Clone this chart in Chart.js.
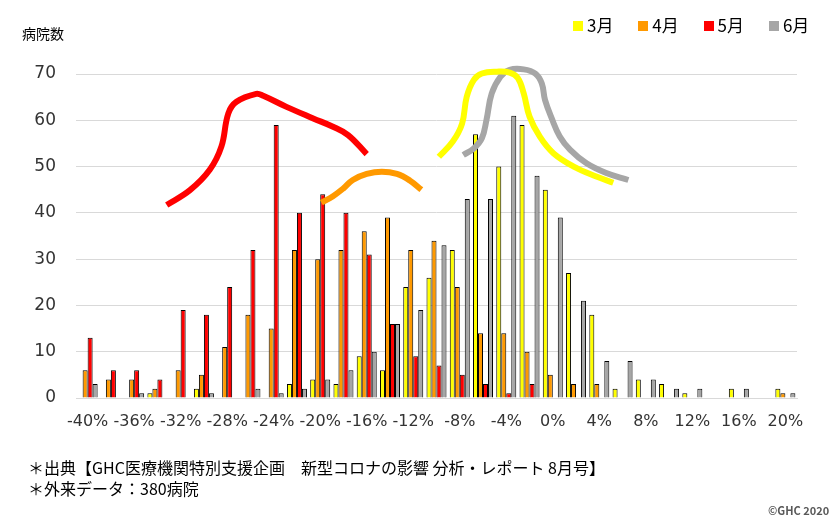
<!DOCTYPE html>
<html><head><meta charset="utf-8">
<script src="https://cdn.jsdelivr.net/npm/chart.js@4.4.1/dist/chart.umd.min.js"></script>
<style>
html,body{margin:0;padding:0;background:#fff;}
#wrap{position:relative;width:833px;height:526px;overflow:hidden;font-family:"Noto Sans CJK JP",sans-serif;}
canvas{position:absolute;left:0;top:0;}
.t{position:absolute;white-space:nowrap;color:#000;}
</style></head><body>
<div id="wrap">
<canvas id="c" width="833" height="526"></canvas>
<canvas id="c2" width="833" height="526"></canvas>
<div class="t" style="left:22px;top:24px;font-size:14px;line-height:18px;">病院数</div>
<div id="legend"></div>
<div class="t" style="left:28px;top:457px;font-size:16px;line-height:21px;">＊出典【GHC医療機関特別支援企画　新型コロナの影響 分析・レポート 8月号】<br>＊外来データ：380病院</div>
<div class="t" style="left:768px;top:503px;font-size:11px;line-height:14px;font-weight:bold;color:#595959;">©GHC 2020</div>
</div>
<script>
const categories = ['-40%','-38%','-36%','-34%','-32%','-30%','-28%','-26%','-24%','-22%','-20%','-18%','-16%','-14%','-12%','-10%','-8%','-6%','-4%','-2%','0%','2%','4%','6%','8%','10%','12%','14%','16%','18%','20%'];
const seriesNames = ['3月','4月','5月','6月'];
const march = [0,0,0,1,0,2,0,0,0,3,4,3,9,6,24,26,32,57,50,59,45,27,18,2,4,3,1,0,2,0,2];
const april = [6,4,4,2,6,5,11,18,15,32,30,32,36,39,32,34,24,14,14,10,5,3,3,0,0,0,0,0,0,0,1];
const may   = [13,6,6,4,19,18,24,32,59,40,44,40,31,16,9,7,5,3,1,3,0,0,0,0,0,0,0,0,0,0,0];
const june  = [3,0,1,0,0,1,0,2,1,2,4,6,10,16,19,33,43,43,61,48,39,21,8,8,4,2,2,0,2,0,1];
const yTicks = [0,10,20,30,40,50,60,70];

// hand-drawn annotation curves (x in %, y in hospitals)
const curveMayX = [-33.2,-31.2,-29.5,-28.5,-27.9,-27.2,-25.5,-24.9,-22.9,-20.6,-18.9,-17.6,-16.0];
const curveMayY = [41.7,44.9,49.3,54.3,61.5,64.0,65.7,65.3,62.9,60.4,58.6,56.8,52.7];
const curveAprX = [-19.9,-18.9,-18.0,-17.2,-16.0,-14.7,-13.4,-12.3,-11.3];
const curveAprY = [42.2,43.6,45.3,47.1,48.4,48.9,48.4,47.0,45.0];
const curveMarX = [-9.8,-8.6,-7.8,-7.4,-6.8,-6.1,-4.8,-3.7,-3.0,-2.5,-2.0,-1.1,0.05,1.8,3.8,5.2];
const curveMarY = [52.1,55.4,59.3,65.1,68.7,70.1,70.5,70.3,69.1,65.8,60.8,56.4,52.9,50.0,47.8,46.5];
const curveJunX = [-7.7,-6.8,-6.1,-5.7,-5.25,-4.5,-3.7,-2.5,-1.5,-0.95,-0.67,-0.09,0.6,1.5,2.9,4.6,6.5];
const curveJunY = [52.5,53.9,56.1,60.1,65.8,69.4,70.9,71.0,70.1,68.0,64.4,60.4,56.5,53.6,50.7,48.6,47.1];

const colors = ['#FFFF00','#FF9900','#FF0000','#A6A6A6'];

const leg = document.getElementById('legend');
seriesNames.forEach((n,i)=>{
  const sq=document.createElement('div');
  sq.style.cssText='position:absolute;top:21px;width:10px;height:10px;left:'+(573+i*65.3)+'px;background:'+colors[i];
  leg.appendChild(sq);
  const tx=document.createElement('div');
  tx.className='t';
  tx.style.cssText='left:'+(587+i*65.3)+'px;top:14px;font-size:17px;line-height:22px;';
  tx.textContent=n;
  leg.appendChild(tx);
});

const barDs=(label,data,color)=>({label,data,backgroundColor:color,borderColor:'#000',borderWidth:1,
  categoryPercentage:0.86,barPercentage:1});
const curveDs=(xs,ys,color)=>({data:xs.map((x,i)=>({x:x,y:ys[i]})),
  borderColor:color,borderWidth:6,pointRadius:0,tension:0.4,clip:false,fill:false,borderCapStyle:'butt'});

// bar chart
new Chart(document.getElementById('c'),{
  type:'bar',
  data:{labels:categories,datasets:[
    barDs(seriesNames[0],march,colors[0]),
    barDs(seriesNames[1],april,colors[1]),
    barDs(seriesNames[2],may,colors[2]),
    barDs(seriesNames[3],june,colors[3])
  ]},
  options:{
    responsive:false,animation:false,devicePixelRatio:1,
    layout:{padding:{left:0,right:36,top:74,bottom:88}},
    plugins:{legend:{display:false},tooltip:{enabled:false}},
    scales:{
      x:{type:'category',offset:true,grid:{display:false,drawTicks:false},border:{display:true,color:'#d9d9d9'},
        ticks:{autoSkip:false,maxRotation:0,minRotation:0,padding:14,color:'#333',font:{family:'DejaVu Sans',size:16},
          callback:function(v,i){return i%2===0?this.getLabelForValue(v):'';}},
        afterFit:s=>{s.height=40;}},
      y:{min:yTicks[0],max:yTicks[yTicks.length-1],grid:{color:'#d9d9d9',drawTicks:false},border:{display:false},
        afterBuildTicks:s=>{s.ticks=yTicks.map(v=>({value:v}));},
        ticks:{padding:20,color:'#333',font:{family:'DejaVu Sans',size:17}},
        afterFit:s=>{s.width=76;}}
    }
  }
});

// overlay: hand-drawn curves, same plot area, linear % axis
new Chart(document.getElementById('c2'),{
  type:'line',
  data:{datasets:[
    curveDs(curveMayX,curveMayY,colors[2]),
    curveDs(curveAprX,curveAprY,colors[1]),
    curveDs(curveMarX,curveMarY,colors[0]),
    curveDs(curveJunX,curveJunY,colors[3])
  ]},
  options:{
    responsive:false,animation:false,devicePixelRatio:1,
    layout:{padding:{left:76,right:36,top:74,bottom:128}},
    plugins:{legend:{display:false},tooltip:{enabled:false}},
    scales:{
      x:{type:'linear',display:false,min:-41,max:21},
      y:{display:false,min:yTicks[0],max:yTicks[yTicks.length-1]}
    }
  }
});
</script>
</body></html>
